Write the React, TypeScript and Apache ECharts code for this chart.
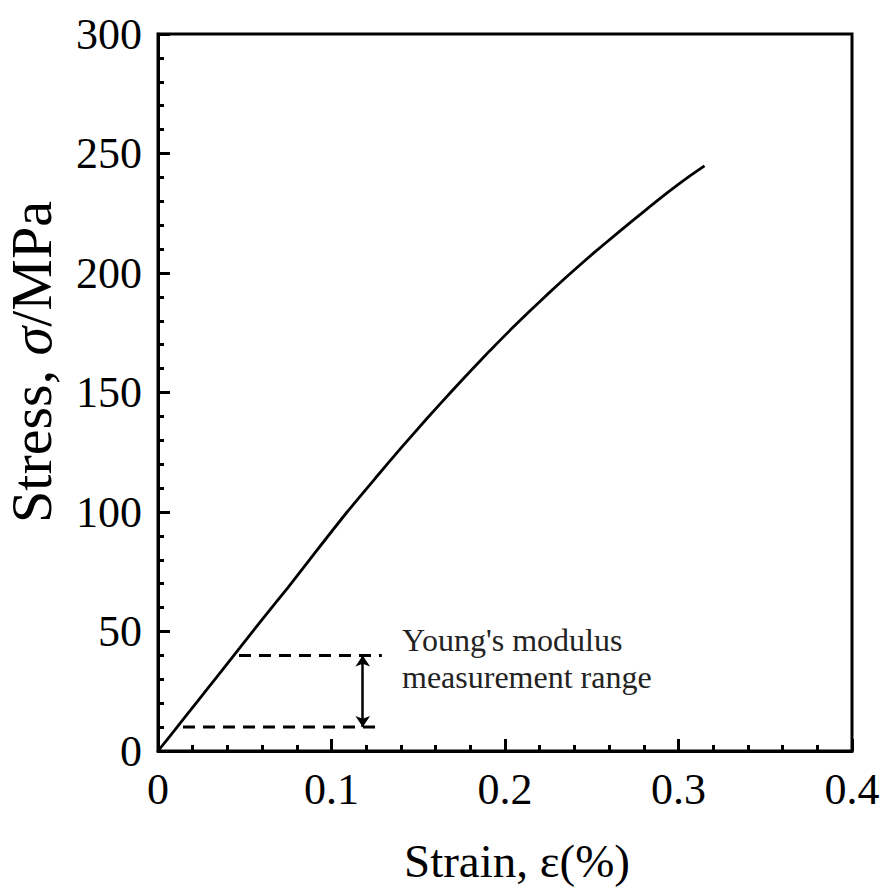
import React, { useEffect, useRef } from "react";
import * as echarts from "echarts";

// Stress–strain curve
const strain = [0, 0.011, 0.023, 0.035, 0.047, 0.06, 0.075, 0.09, 0.109, 0.125, 0.14, 0.155, 0.169, 0.18, 0.191, 0.203, 0.214, 0.226, 0.237, 0.251, 0.265, 0.28, 0.294, 0.305, 0.315];
const stress = [0, 10, 21, 32, 43, 55, 68.5, 82.5, 100, 113.9, 126.7, 139.1, 150.3, 158.9, 167.3, 176.1, 183.9, 192.1, 199.4, 208.3, 216.8, 225.7, 233.8, 239.8, 244.8];

// Young's modulus measurement range
const rangeStress = [10, 40];
const rangeStrainStart = [0.0144, 0.0467];
const rangeStrainEnd = 0.129;
const arrowStrain = 0.118;

const xMin = 0, xMax = 0.4, xInterval = 0.1;
const yMin = 0, yMax = 300, yInterval = 50;

const FONT = "'Liberation Serif', 'Times New Roman', serif";

export default function App() {
  const ref = useRef<HTMLDivElement>(null);
  useEffect(() => {
    if (!ref.current) return;
    const chart = echarts.init(ref.current, null, { renderer: "svg" });
    const black = "#000";
    const axisCommon = {
      axisLine: { show: true, lineStyle: { color: black, width: 3 } },
      axisTick: { show: true, inside: true, length: 12, lineStyle: { color: black, width: 3 } },
      minorTick: { show: true, splitNumber: 5, length: 6, lineStyle: { color: black, width: 3 } },
      splitLine: { show: false },
      minorSplitLine: { show: false },
    };
    chart.setOption({
      animation: false,
      backgroundColor: "#fff",
      grid: { left: 158, right: 33, top: 34, bottom: 143, show: true, borderColor: black, borderWidth: 3, backgroundColor: "transparent" },
      xAxis: {
        type: "value", min: xMin, max: xMax, interval: xInterval,
        ...axisCommon,
        axisLabel: { color: black, fontFamily: FONT, fontSize: 44, margin: 16, lineHeight: 44 },
      },
      yAxis: {
        type: "value", min: yMin, max: yMax, interval: yInterval,
        ...axisCommon,
        axisLabel: { color: black, fontFamily: FONT, fontSize: 44, margin: 16 },
      },
      series: [
        {
          type: "line", data: strain.map((s, i) => [s, stress[i]]),
          showSymbol: false, symbol: "none", smooth: 0.2,
          lineStyle: { color: black, width: 2.8 }, silent: true,
        },
        ...rangeStress.map((v, i) => ({
          type: "line", data: [[rangeStrainStart[i], v], [rangeStrainEnd, v]],
          showSymbol: false, symbol: "none", silent: true,
          lineStyle: { color: black, width: 3, type: [12, 8] },
          markLine: i === 0 ? {
            silent: true, symbol: ["arrow", "arrow"], symbolSize: 11,
            label: { show: false },
            lineStyle: { color: black, width: 2.5, type: "solid" },
            data: [[{ coord: [arrowStrain, rangeStress[1]] }, { coord: [arrowStrain, rangeStress[0]] }]],
          } : undefined,
        })),
      ],
      graphic: [
        {
          type: "text", x: 31, y: 362, rotation: Math.PI / 2,
          style: {
            text: "Stress, {i|σ}/MPa", fill: black, font: `58px ${FONT}`,
            align: "center", verticalAlign: "middle",
            rich: { i: { fontStyle: "italic", fontSize: 58, fontFamily: FONT, fill: black } },
          },
        },
        {
          type: "text", x: 517, y: 861,
          style: {
            text: "Strain, ε(%)", fill: black, font: `47px ${FONT}`,
            align: "center", verticalAlign: "middle",
          },
        },
        {
          type: "text", x: 402, y: 658,
          style: {
            text: "Young's modulus\nmeasurement range", fill: "#222", font: `32px ${FONT}`,
            lineHeight: 37, align: "left", verticalAlign: "middle",
          },
        },
      ],
    });
    return () => chart.dispose();
  }, []);
  return <div ref={ref} style={{ position: "fixed", left: 0, top: 0, width: 885, height: 894 }} />;
}
